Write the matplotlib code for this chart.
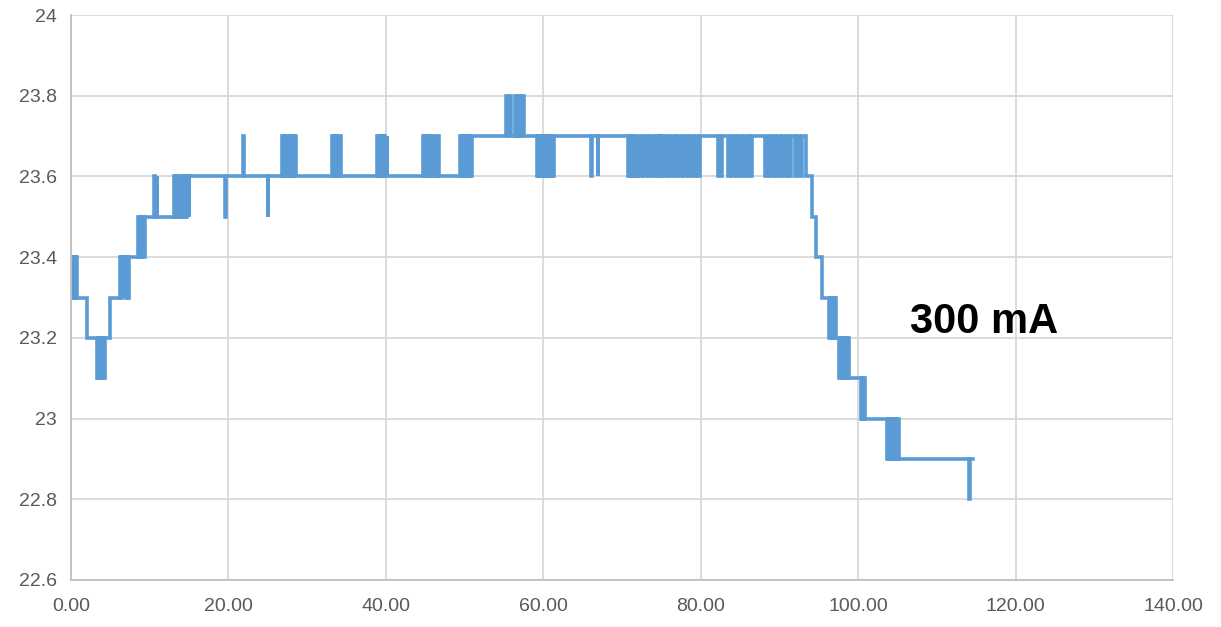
import matplotlib
matplotlib.use("Agg")
import matplotlib.pyplot as plt

# time (x) at which the reading changes, and the new reading (°C)
change_t = [
    0.0, 0.2, 0.35, 0.55, 0.65, 0.8,
    2.0,
    3.3, 3.5, 3.6, 3.8, 3.9, 4.1, 4.2, 4.35,
    5.0,
    6.2, 6.35, 6.5, 6.7, 6.8, 7.0, 7.1, 7.3, 7.45,
    8.5, 8.65, 8.8, 8.95, 9.1, 9.25, 9.4,
    10.6, 10.75, 10.9, 11.0,
    13.1, 13.25, 13.4, 13.5,
    13.9, 14.05, 14.2, 14.35, 14.5, 14.65, 14.8, 14.95, 15.05,
    19.6, 19.7,
    21.9, 22.0,
    25.0, 25.1,
    26.8, 26.95, 27.1, 27.2, 27.5, 27.65, 27.8, 27.95, 28.1, 28.25, 28.4, 28.6,
    33.2, 33.35, 33.5, 33.65, 33.8, 33.95, 34.1, 34.25,
    38.9, 39.05, 39.2, 39.35, 39.5, 39.65, 39.8, 39.95, 40.1, 40.2,
    44.7, 44.85, 45.0, 45.15, 45.4, 45.55, 45.75, 45.9,
    46.3, 46.45, 46.6, 46.8,
    49.4, 49.55, 49.7, 49.85, 50.0, 50.15, 50.3, 50.45, 50.6, 50.75, 50.9,
    55.3, 55.5, 55.65, 55.85,
    56.4, 56.55, 56.7, 56.85, 57.0, 57.15, 57.3, 57.55,
    59.2, 59.35, 59.5, 59.65, 59.8, 59.95, 60.1, 60.25, 60.4, 60.55,
    60.7, 60.85, 61.0, 61.15, 61.25, 61.4,
    66.1, 66.2, 66.9, 67.0,
    70.7, 70.85, 71.0, 71.15, 71.3, 71.45,
    71.6, 71.9, 72.2, 72.5, 72.8, 73.1, 73.4, 73.7, 74.0, 74.3, 74.5, 74.65,
    74.9, 75.05,
    75.5, 75.8, 76.1, 76.4, 76.7, 77.0, 77.3, 77.6, 77.9, 78.2, 78.5, 78.8, 79.1, 79.4,
    79.7, 79.85,
    82.2, 82.35, 82.5, 82.65,
    83.4, 83.7, 84.0, 84.3, 84.6, 84.9, 85.2, 85.5, 85.8, 86.1, 86.35, 86.5,
    88.2, 88.5, 88.8, 89.1, 89.4, 89.7, 90.0, 90.3, 90.6, 90.9, 91.2, 91.5,
    92.0, 92.2, 92.6, 92.8,
    93.3, 94.1, 94.6, 95.4,
    96.3, 96.45, 96.6, 96.75, 96.9, 97.05, 97.15,
    97.6, 97.75, 97.9, 98.05, 98.2, 98.35, 98.5, 98.65, 98.8,
    100.3, 100.45, 100.6, 100.75, 100.9,
    103.6, 103.75, 103.9, 104.05, 104.2, 104.35, 104.5, 104.65, 104.75,
    105.0, 105.15,
    114.0, 114.15, 114.6,
]
change_v = [
    23.4, 23.3, 23.4, 23.3, 23.4, 23.3,
    23.2,
    23.1, 23.2, 23.1, 23.2, 23.1, 23.2, 23.1, 23.2,
    23.3,
    23.4, 23.3, 23.4, 23.3, 23.4, 23.3, 23.4, 23.3, 23.4,
    23.5, 23.4, 23.5, 23.4, 23.5, 23.4, 23.5,
    23.6, 23.5, 23.6, 23.5,
    23.6, 23.5, 23.6, 23.5,
    23.6, 23.5, 23.6, 23.5, 23.6, 23.5, 23.6, 23.5, 23.6,
    23.5, 23.6,
    23.7, 23.6,
    23.5, 23.6,
    23.7, 23.6, 23.7, 23.6, 23.7, 23.6, 23.7, 23.6, 23.7, 23.6, 23.7, 23.6,
    23.7, 23.6, 23.7, 23.6, 23.7, 23.6, 23.7, 23.6,
    23.7, 23.6, 23.7, 23.6, 23.7, 23.6, 23.7, 23.6, 23.7, 23.6,
    23.7, 23.6, 23.7, 23.6, 23.7, 23.6, 23.7, 23.6,
    23.7, 23.6, 23.7, 23.6,
    23.7, 23.6, 23.7, 23.6, 23.7, 23.6, 23.7, 23.6, 23.7, 23.6, 23.7,
    23.8, 23.7, 23.8, 23.7,
    23.8, 23.7, 23.8, 23.7, 23.8, 23.7, 23.8, 23.7,
    23.6, 23.7, 23.6, 23.7, 23.6, 23.7, 23.6, 23.7, 23.6, 23.7,
    23.6, 23.7, 23.6, 23.7, 23.6, 23.7,
    23.6, 23.7, 23.6, 23.7,
    23.6, 23.7, 23.6, 23.7, 23.6, 23.7,
    23.6, 23.7, 23.6, 23.7, 23.6, 23.7, 23.6, 23.7, 23.6, 23.7, 23.6, 23.7,
    23.6, 23.7,
    23.6, 23.7, 23.6, 23.7, 23.6, 23.7, 23.6, 23.7, 23.6, 23.7, 23.6, 23.7, 23.6, 23.7,
    23.6, 23.7,
    23.6, 23.7, 23.6, 23.7,
    23.6, 23.7, 23.6, 23.7, 23.6, 23.7, 23.6, 23.7, 23.6, 23.7, 23.6, 23.7,
    23.6, 23.7, 23.6, 23.7, 23.6, 23.7, 23.6, 23.7, 23.6, 23.7, 23.6, 23.7,
    23.6, 23.7, 23.6, 23.7,
    23.6, 23.5, 23.4, 23.3,
    23.2, 23.3, 23.2, 23.3, 23.2, 23.3, 23.2,
    23.1, 23.2, 23.1, 23.2, 23.1, 23.2, 23.1, 23.2, 23.1,
    23.0, 23.1, 23.0, 23.1, 23.0,
    22.9, 23.0, 22.9, 23.0, 22.9, 23.0, 22.9, 23.0, 22.9,
    23.0, 22.9,
    22.8, 22.9, 22.9,
]

x_ticks = [0, 20, 40, 60, 80, 100, 120, 140]
y_ticks = [22.6, 22.8, 23.0, 23.2, 23.4, 23.6, 23.8, 24.0]
y_labels = ["22.6", "22.8", "23", "23.2", "23.4", "23.6", "23.8", "24"]
label = "300 mA"

plt.rcParams["font.family"] = ["Liberation Sans", "DejaVu Sans"]

fig = plt.figure(figsize=(12.21, 6.27), dpi=100)
ax = fig.add_axes([0.058, 0.075, 0.903, 0.901])

ax.step(change_t, change_v, where="post", color="#5B9BD5", linewidth=2.6,
        solid_joinstyle="miter")

ax.set_xlim(0, 140)
ax.set_ylim(22.6, 24.0)
ax.set_xticks(x_ticks)
ax.set_xticklabels([f"{v:.2f}" for v in x_ticks])
ax.set_yticks(y_ticks)
ax.set_yticklabels(y_labels)
ax.tick_params(length=0, labelsize=14, labelcolor="#595959")
ax.tick_params(axis="x", pad=13)
ax.tick_params(axis="y", pad=10)

ax.grid(True, color="#D9D9D9", linewidth=1.3)
ax.set_axisbelow(True)
for side in ("top", "right"):
    ax.spines[side].set_visible(False)
for side in ("left", "bottom"):
    ax.spines[side].set_color("#BFBFBF")
    ax.spines[side].set_linewidth(1.3)

ax.text(106.6, 23.24, label, fontsize=30, fontweight="bold",
        color="black", va="center", ha="left")

fig.savefig("out.png", dpi=100)
